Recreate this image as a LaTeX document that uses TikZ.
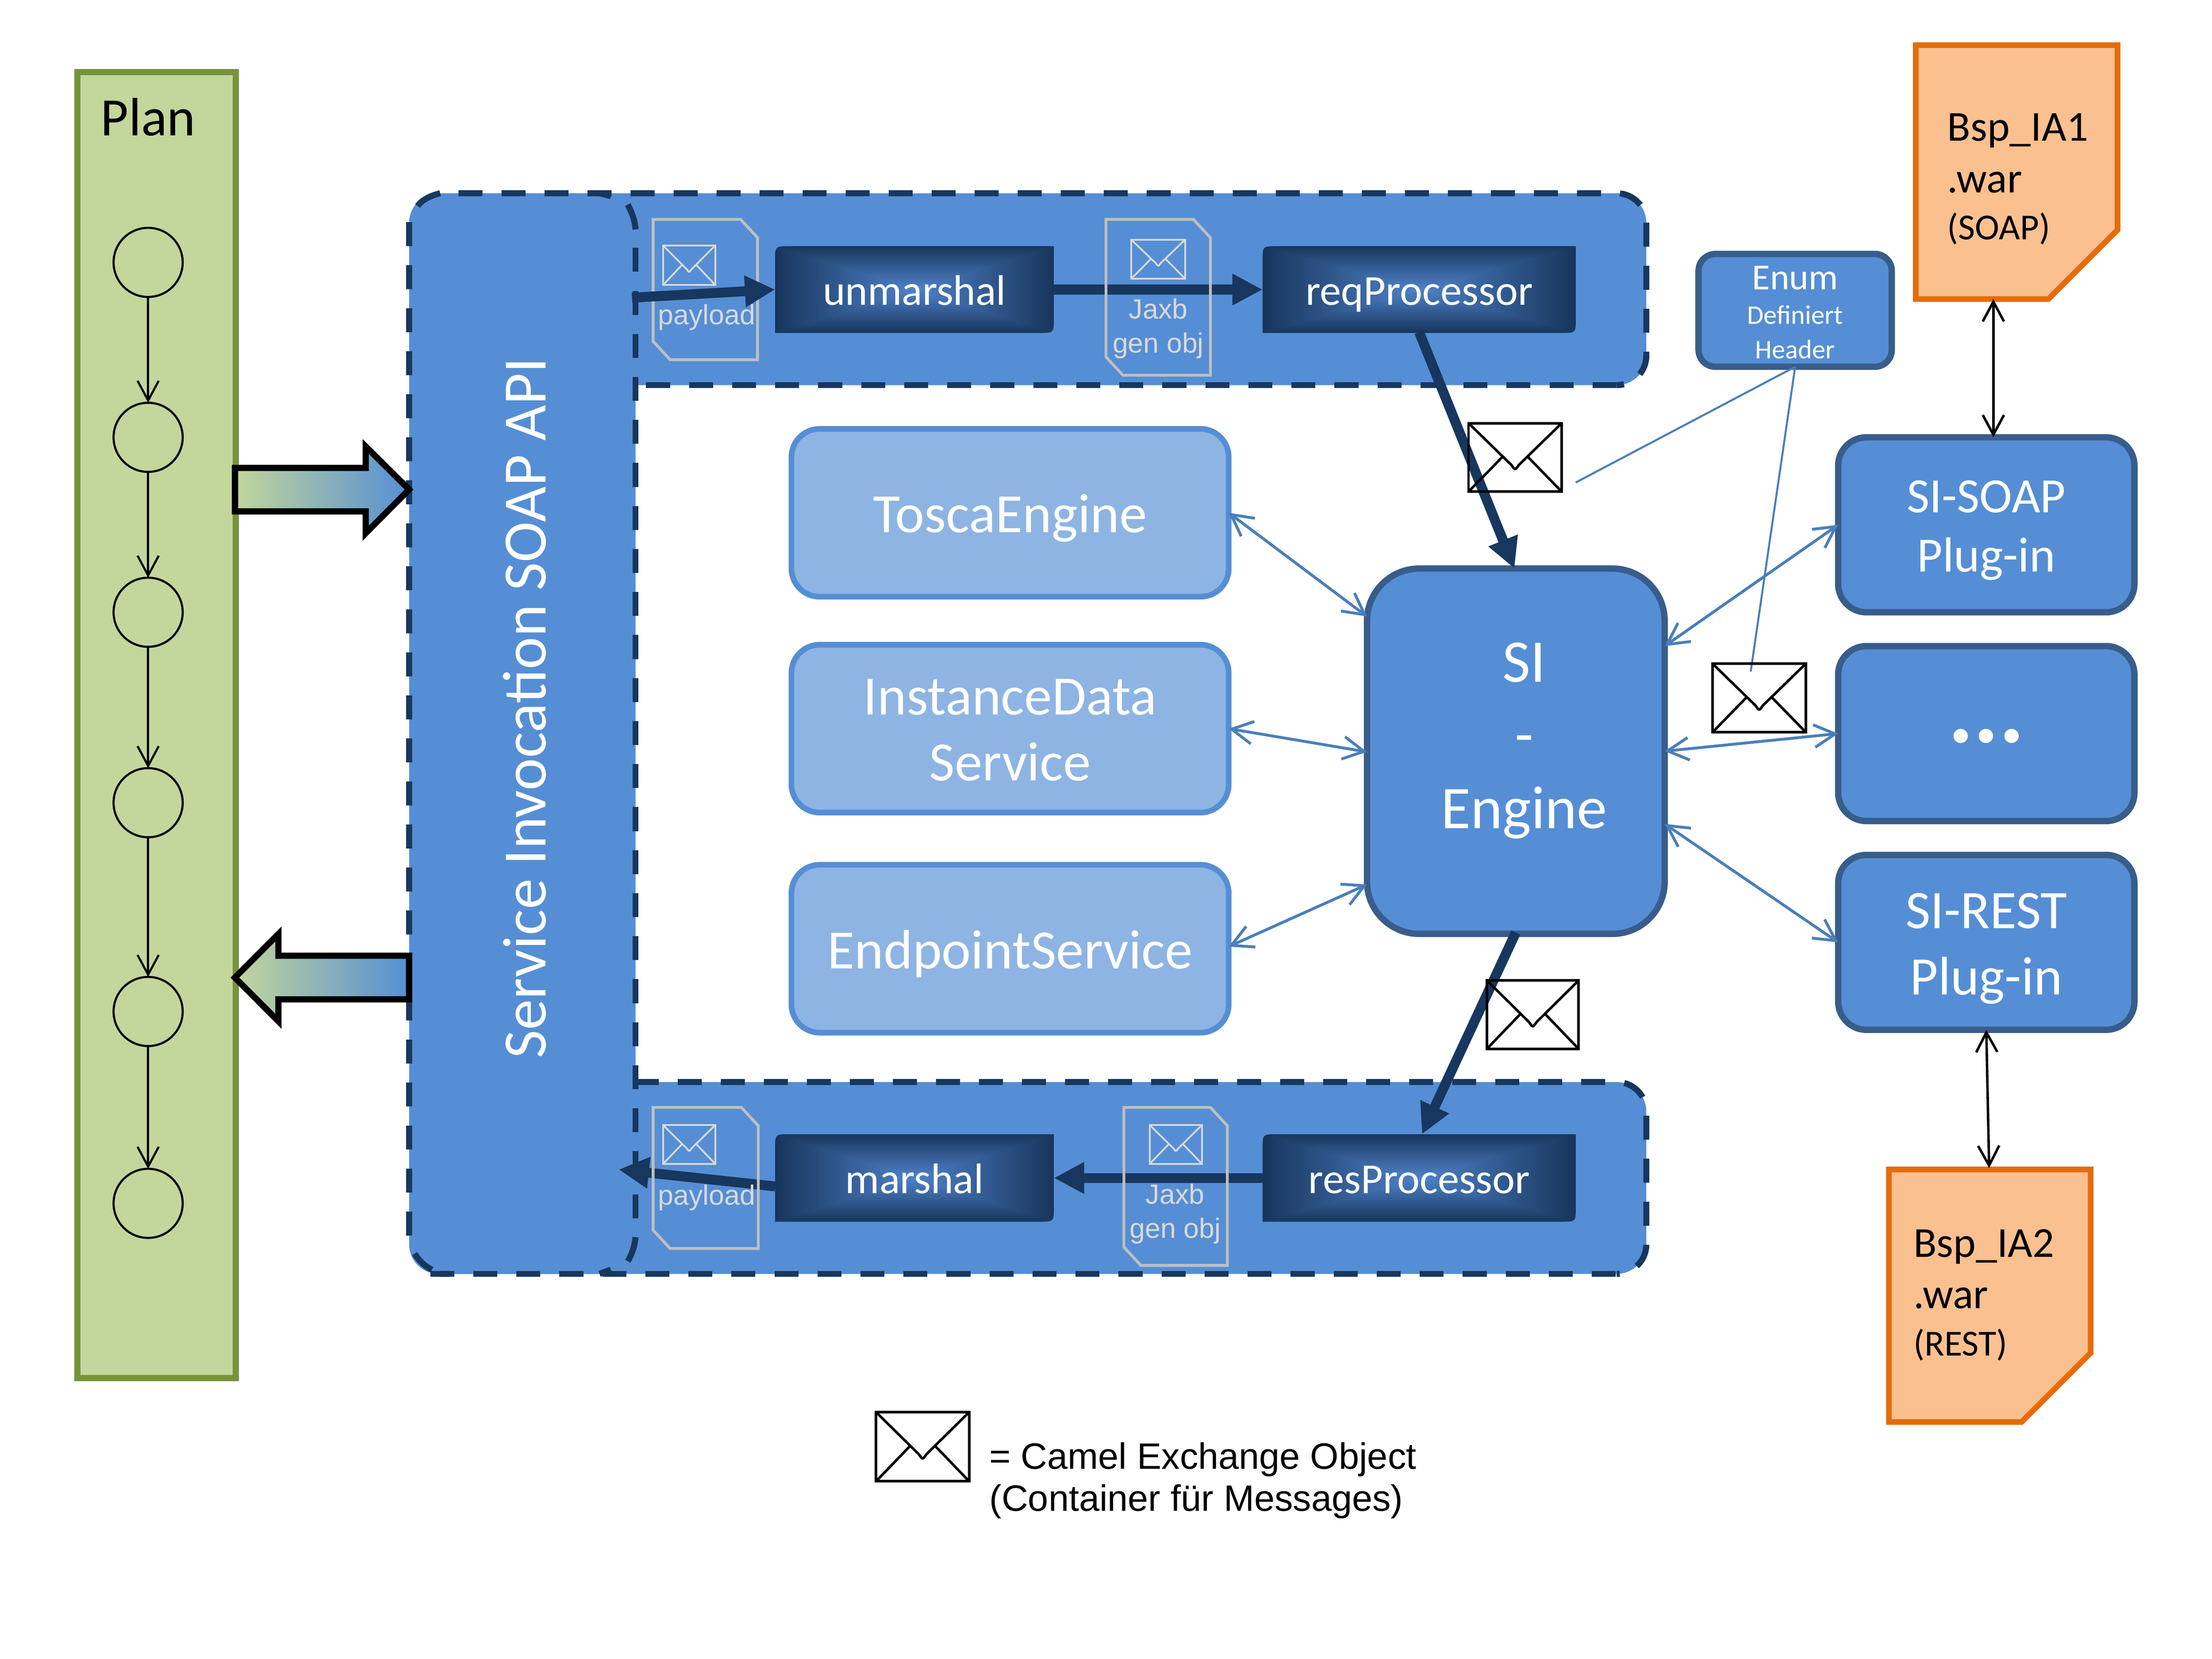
\documentclass[tikz,border=0pt]{standalone}
\usepackage{fontspec}
\setmainfont{Carlito}
\newfontfamily\arialfont{Liberation Sans}
\usetikzlibrary{arrows.meta,calc}
\definecolor{panelblue}{HTML}{558ED5}
\definecolor{paneldark}{HTML}{17375E}
\definecolor{boxedge}{HTML}{385D8A}
\definecolor{lightblue}{HTML}{8EB4E3}
\definecolor{linkblue}{HTML}{4A7EBB}
\definecolor{plangreen}{HTML}{C3D69B}
\definecolor{planedge}{HTML}{76933C}
\definecolor{warfill}{HTML}{FAC090}
\definecolor{waredge}{HTML}{E46C0A}
\definecolor{docgray}{HTML}{BFBFBF}
\definecolor{doctext}{HTML}{D9D9D9}
\newcommand\fsz[2]{\fontsize{\fpeval{#1*0.569}}{\fpeval{#2*0.569}}\selectfont}
\pgfdeclarefunctionalshading{rectglow}{\pgfpoint{-50bp}{-50bp}}{\pgfpoint{50bp}{50bp}}{}{
  abs exch abs 2 copy lt {exch} if pop 25 div
  dup -0.22 mul 0.31 add exch
  dup -0.30 mul 0.51 add exch
  -0.43 mul 0.79 add
}
\newcommand\envel[6]{%
  \begin{scope}[shift={(#1,#2)},xscale=#3,yscale=#4,color=#5,line width=#6]
    \draw (0,0) rectangle (1,1);
    \draw[line join=round] (0,0) -- (.46,.61) .. controls (.5,.69) .. (.54,.61) -- (1,0);
    \draw (0,1) -- (.365,.49);
    \draw (1,1) -- (.635,.49);
  \end{scope}}
\newcommand\docshape[4]{%
  \draw[docline] (#1,#2) -- ({#3-12},#2) -- (#3,{#2+13}) -- (#3,#4) -- ({#1+12},#4) -- (#1,{#4-13}) -- cycle;}
\newcommand\procbg[4]{%
  \path[shading=rectglow] (#1,#4) -- (#1,{#2+10}) .. controls (#1,#2) .. ({#1+10},#2) -- (#3,#2)
    -- (#3,{#4-10}) .. controls (#3,#4) .. ({#3-10},#4) -- cycle;}
\tikzset{
  panelline/.style={draw=paneldark,line width=.086cm,dash pattern=on .34cm off .27cm},
  arcline/.style={draw=paneldark,line width=.086cm},
  plainbox/.style={draw=boxedge,fill=panelblue,line width=.09cm,rounded corners=.4cm,outer sep=0pt,inner sep=0pt,text=white,align=center},
  svcbox/.style={draw=panelblue,fill=lightblue,line width=.08cm,rounded corners=.4cm,outer sep=0pt,inner sep=0pt,
    minimum width=6.2cm,minimum height=2.38cm,text=white,align=center},
  plugbox/.style={plainbox,minimum width=4.2cm,minimum height=2.48cm},
  boxtext/.style={text=white,align=center,inner sep=0pt},
  state/.style={circle,draw=black,line width=.03cm,minimum size=.98cm,inner sep=0pt,outer sep=0pt},
  planarr/.style={draw=black,line width=.03cm,-{Straight Barb[length=.28cm,width=.3cm]}},
  blackarr/.style={draw=black,line width=.035cm,{Straight Barb[length=.28cm,width=.3cm]}-{Straight Barb[length=.28cm,width=.3cm]}},
  linkarr/.style={draw=linkblue,line width=.04cm,{Straight Barb[length=.3cm,width=.32cm]}-{Straight Barb[length=.3cm,width=.32cm]}},
  noteline/.style={draw=linkblue,line width=.028cm},
  thickarr/.style={draw=paneldark,line width=.14cm,-{Triangle[length=.43cm,width=.42cm]}},
  docline/.style={draw=docgray,line width=.04cm,line join=miter},
  proclabel/.style={text=white,inner sep=0pt,outer sep=0pt,font=\fsz{30.3}{36},text height=12.5pt,text depth=0pt},
  doclabel/.style={text=doctext,font=\arialfont\fsz{19.7}{24},align=center,inner sep=0pt},
  warshape/.style={draw=waredge,fill=warfill,line width=.08cm,line join=miter},
  warlabel/.style={anchor=west,align=left,inner sep=0pt,text=black},
  blockarr/.style={draw=black,line width=.088cm,line join=miter},
}
\begin{document}
\begin{tikzpicture}[x=.02cm,y=-.02cm]
\useasboundingbox (0,0) rectangle (1568,1176);

% Plan lane
\draw[draw=planedge,fill=plangreen,line width=.088cm] (55,51) rectangle (167,977);
\node[inner sep=0pt,font=\fsz{38.3}{44}] (plan) at (105,83) {Plan};
\node[state] (c1) at (105,186) {};
\node[state] (c2) at (105,310) {};
\node[state] (c3) at (105,434) {};
\node[state] (c4) at (105,569) {};
\node[state] (c5) at (105,717) {};
\node[state] (c6) at (105,853) {};
\draw[planarr] (c1) -- (c2);
\draw[planarr] (c2) -- (c3);
\draw[planarr] (c3) -- (c4);
\draw[planarr] (c4) -- (c5);
\draw[planarr] (c5) -- (c6);

% Panels
\fill[panelblue,rounded corners=.42cm] (290,137) rectangle (1167,273);
\fill[panelblue,rounded corners=.42cm] (290,767) rectangle (1167,903);
\fill[panelblue,rounded corners=.58cm] (290,137) rectangle (450.5,903);
\draw[panelline,rounded corners=.42cm] (325,137) -- (1167,137) -- (1167,273) -- (1146,273);
\draw[panelline] (458,273) -- (1146,273);
\draw[panelline,rounded corners=.42cm] (450,767) -- (1167,767) -- (1167,903) -- (1146,903);
\draw[panelline] (305,903) -- (1146,903);
\draw[panelline,rounded corners=.58cm] (290,157.5) -- (290,903) -- (312,903);
\draw[panelline] (450.5,175.7) -- (450.5,866);
\draw[arcline] (312,137) .. controls (304,139) and (299,142) .. (296,146);
\draw[arcline] (450.5,162.6) .. controls (450,156) and (448,151) .. (445,145);
\draw[arcline] (450.5,877) .. controls (450,883) and (448,889) .. (445,894);
\draw[arcline] (425,137) -- (433,139);
\draw[arcline] (425,903) -- (433,900);
\node[rotate=90,text=white,inner sep=0pt,font=\fsz{43.7}{50}] (api) at (372,502) {Service Invocation SOAP API};

% Block arrows
\draw[blockarr,left color=plangreen,right color=panelblue]
  (166.6,331.7) -- (259.2,331.7) -- (259.2,316.5) -- (290,347) -- (259.2,378) -- (259.2,362.5) -- (166.6,362.5) -- cycle;
\draw[blockarr,left color=plangreen,right color=panelblue]
  (290,677.5) -- (197.4,677.5) -- (197.4,662) -- (166.5,693) -- (197.4,724) -- (197.4,708.4) -- (290,708.4) -- cycle;

% Processing steps
\procbg{549.5}{174.5}{747}{236}
\procbg{895}{174.5}{1117}{236}
\procbg{549.5}{804}{747}{866}
\procbg{895}{804}{1117}{866}
\node[proclabel,minimum width=3.95cm,minimum height=1.23cm] (unm) at (648.25,205.25) {unmarshal};
\node[proclabel,minimum width=4.44cm,minimum height=1.23cm] (req) at (1006,205.25) {reqProcessor};
\node[proclabel,minimum width=3.95cm,minimum height=1.24cm] (mar) at (648.25,835) {marshal};
\node[proclabel,minimum width=4.44cm,minimum height=1.24cm] (res) at (1006,835) {resProcessor};

% Arrows under the documents
\coordinate (apiIn) at (448,211);
\coordinate (apiOut) at (438.5,829);
\draw[thickarr] (unm.east) -- (req.west);
\draw[thickarr] (res.west) -- (mar.east);
\draw[thickarr] ($(mar.west)+(0,6)$) -- (apiOut);

% Documents
\docshape{463}{155.5}{537}{255}
\docshape{784}{155.5}{858}{266}
\docshape{463}{785}{537.5}{885}
\docshape{796.7}{785}{870}{897}
\envel{470}{174}{37}{28}{doctext}{.025cm}
\envel{802}{170}{38}{27.5}{doctext}{.025cm}
\envel{470}{797.5}{37}{27.5}{doctext}{.025cm}
\envel{815}{797.5}{37}{27.5}{doctext}{.025cm}
\node[doclabel] (pl1) at (501,225) {payload};
\node[doclabel] (jx1) at (821,233) {Jaxb\\gen obj};
\node[doclabel] (pl2) at (501,849) {payload};
\node[doclabel] (jx2) at (833,860.5) {Jaxb\\gen obj};
\draw[thickarr] (apiIn) -- ($(unm.west)$);

% Services and engine
\node[svcbox,font=\fsz{39.3}{47},text height=16pt,text depth=0pt] (tosca) at (716,363.5) {ToscaEngine};
\node[svcbox] (inst) at (716,516.5) {};
\node[boxtext,font=\fsz{39.3}{47}] (instT) at (716,517.5) {InstanceData\\Service};
\node[svcbox,font=\fsz{39.3}{47},text height=16pt,text depth=0pt] (endp) at (716,672.5) {EndpointService};
\node[plainbox,minimum width=4.22cm,minimum height=5.18cm,rounded corners=.74cm] (si) at (1074.5,532.5) {};
\node[boxtext,font=\fsz{43}{52}] (siT) at (1080.5,525) {SI\\-\\Engine};
\node[plugbox] (soap) at (1408,372) {};
\node[boxtext,font=\fsz{35}{42}] (soapT) at (1408,376) {SI-SOAP\\Plug-in};
\node[plugbox,font=\bfseries\fsz{68}{70},text height=7.2pt,text depth=0pt] (more) at (1408,520) {...};
\node[plugbox] (rest) at (1408,668) {};
\node[boxtext,font=\fsz{38.5}{47}] (restT) at (1408,672.5) {SI-REST\\Plug-in};
\node[plainbox,minimum width=2.74cm,minimum height=1.6cm,rounded corners=.24cm] (enum) at (1272.5,220) {};
\node[boxtext,font=\fsz{26}{24.5}] (enumT) at (1272.5,221.5) {Enum\\{\fsz{19}{24}Definiert}\\{\fsz{19}{24}Header}};

\draw[linkarr] (tosca.east) -- ($(si.west)+(0,-95.5)$);
\draw[linkarr] (inst.east) -- ($(si.west)+(0,0.5)$);
\draw[linkarr] ($(endp.east)+(0,-1.5)$) -- ($(si.west)+(0,94.5)$);
\draw[linkarr] ($(si.east)+(0,-74.5)$) -- (soap.west);
\draw[linkarr] (si.east) -- ($(more.west)$);
\draw[linkarr] ($(si.east)+(0,51.5)$) -- (rest.west);

\draw[thickarr] ($(req.south)+(0,-0.5)$) -- ($(si.north)+(-1,0)$);
\draw[thickarr] ($(si.south)+(0,-1)$) -- ($(res.north)+(2,0)$);

% Notes from the enum box
\coordinate (noteA) at (1117,342);
\coordinate (noteB) at (1241,476);
\draw[noteline] (enum.south) -- (noteA);
\draw[noteline] (enum.south) -- (noteB);

% Exchange envelopes
\envel{1041}{300}{66}{48.5}{black}{.036cm}
\envel{1214}{470.5}{66}{48.5}{black}{.036cm}
\envel{1054}{695}{65}{48.5}{black}{.036cm}
\envel{621}{1001}{66}{49}{black}{.036cm}

% War files
\draw[warshape] (1358,32) -- (1501,32) -- (1501,163) -- (1452,212) -- (1358,212) -- cycle;
\draw[warshape] (1339,829) -- (1482,829) -- (1482,959) -- (1433,1008) -- (1339,1008) -- cycle;
\node[warlabel,font=\fsz{30.3}{36.5}] (war1) at (1380,127) {Bsp\_IA1\\.war\\[-1.7pt]\fsz{26}{33}(SOAP)};
\node[warlabel,font=\fsz{30.3}{36.5}] (war2) at (1356,918) {Bsp\_IA2\\.war\\[-1.7pt]\fsz{26}{33}(REST)};
\coordinate (war1b) at (1413,212);
\coordinate (war2t) at (1410,828);
\draw[blackarr] (war1b) -- ($(soap.north)+(5,0)$);
\draw[blackarr] ($(rest.south)$) -- (war2t);

% Legend
\node[anchor=west,align=left,inner sep=0pt,font=\arialfont\fsz{26}{30}] (legend) at (701,1049.5) {= Camel Exchange Object\\(Container für Messages)};
\end{tikzpicture}
\end{document}
